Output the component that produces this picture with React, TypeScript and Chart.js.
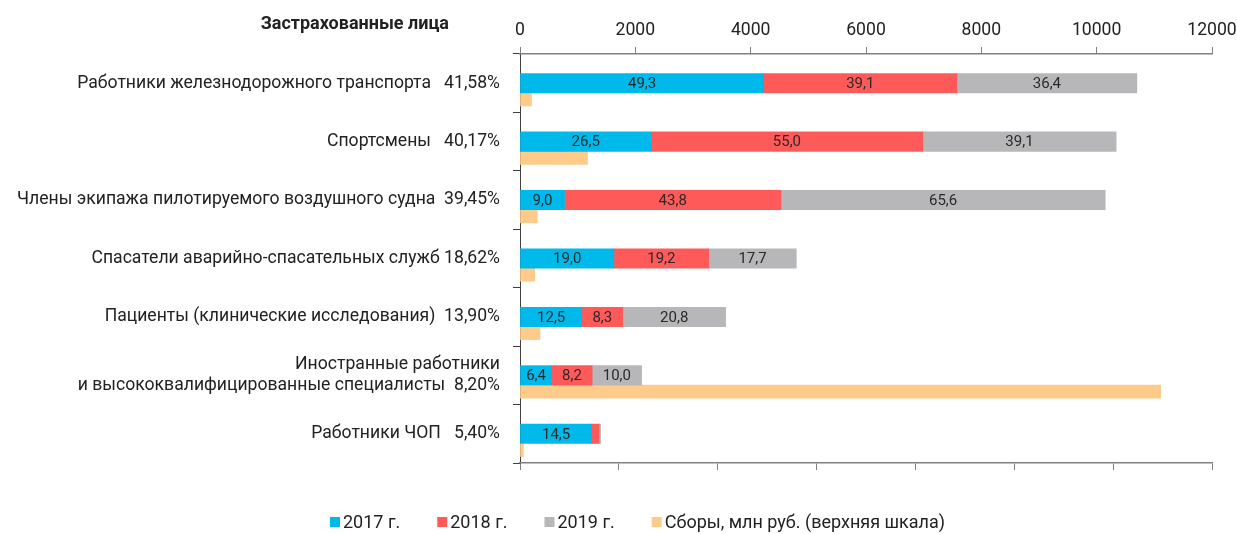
import React, { useEffect, useRef } from "react";
import { Chart, registerables } from "chart.js";

Chart.register(...registerables);

const FONT = "Roboto, 'Noto Sans', sans-serif";

const categories: (string | string[])[] = [
  "Работники железнодорожного транспорта",
  "Спортсмены",
  "Члены экипажа пилотируемого воздушного судна",
  "Спасатели аварийно-спасательных служб",
  "Пациенты (клинические исследования)",
  ["Иностранные работники", "и высококвалифицированные специалисты"],
  "Работники ЧОП",
];
const shares = ["41,58%", "40,17%", "39,45%", "18,62%", "13,90%", "8,20%", "5,40%"];
const shareGaps = ["   ", "   ", "  ", " ", "  ", "  ", "   "];

const values2017 = [49.3, 26.5, 9.0, 19.0, 12.5, 6.4, 14.5];
const values2018 = [39.1, 55.0, 43.8, 19.2, 8.3, 8.2, 1.5];
const values2019 = [36.4, 39.1, 65.6, 17.7, 20.8, 10.0, 0.3];
const fees = [200, 1170, 300, 255, 347, 11110, 60];

const seriesNames = ["2017 г.", "2018 г.", "2019 г.", "Сборы, млн руб. (верхняя шкала)"];
const seriesColors = ["#00B9EB", "#FF5A5A", "#B7B7B9", "#FFCB8A"];
const titleText = "Застрахованные лица";

const bottomMax = 140;
const bottomStep = 20;
const topMax = 12000;
const topStep = 2000;

function buildLabels(): string[][] {
  return categories.map((c, i) => {
    const lines = Array.isArray(c) ? [...c] : [c];
    lines[lines.length - 1] = lines[lines.length - 1] + shareGaps[i] + shares[i];
    return lines;
  });
}

const valueLabels = {
  id: "valueLabels",
  afterDatasetsDraw(chart: any) {
    const ctx = chart.ctx;
    ctx.save();
    ctx.font = `15px ${FONT}`;
    ctx.fillStyle = "#2a2a2a";
    ctx.textAlign = "center";
    ctx.textBaseline = "middle";
    chart.data.datasets.forEach((ds: any, di: number) => {
      if (ds.stack !== "main") return;
      const meta = chart.getDatasetMeta(di);
      meta.data.forEach((bar: any, i: number) => {
        const v = ds.data[i] as number;
        const p = bar.getProps(["x", "y", "base"], true);
        const w = Math.abs(p.x - p.base);
        const text = v.toFixed(1).replace(".", ",");
        if (w < ctx.measureText(text).width + 4) return;
        ctx.fillText(text, (p.x + p.base) / 2, p.y + 1);
      });
    });
    ctx.restore();
  },
};

const decorations = {
  id: "decorations",
  afterDraw(chart: any) {
    const ctx = chart.ctx;
    const area = chart.chartArea;
    ctx.save();
    // title
    ctx.font = `bold 18px ${FONT}`;
    ctx.fillStyle = "#222";
    ctx.textAlign = "right";
    ctx.textBaseline = "middle";
    ctx.fillText(titleText, area.left - 71, 24);
    // legend
    ctx.font = `18px ${FONT}`;
    ctx.textAlign = "left";
    let x = 330;
    const y = 522;
    chart.data.datasets.forEach((ds: any) => {
      if (!ds.label) return;
      ctx.fillStyle = ds.backgroundColor;
      ctx.fillRect(x, y - 5, 10, 10);
      x += 13;
      ctx.fillStyle = "#222";
      ctx.fillText(ds.label, x, y + 1);
      x += ctx.measureText(ds.label).width + 37;
    });
    ctx.restore();
  },
};

export default function App() {
  const ref = useRef<HTMLCanvasElement>(null);
  useEffect(() => {
    document.body.style.margin = "0";
    Chart.defaults.font.family = FONT;
    const chart = new Chart(ref.current!, {
      type: "bar",
      data: {
        labels: buildLabels(),
        datasets: [
          // empty spacer group: shifts the two bar groups so the main bar sits on the category centre
          { label: "", data: [], backgroundColor: "rgba(0,0,0,0)", stack: "spacer", xAxisID: "x", barThickness: 19.4 } as any,
          { label: seriesNames[0], data: values2017, backgroundColor: seriesColors[0], stack: "main", xAxisID: "x", barThickness: 19.4 } as any,
          { label: seriesNames[1], data: values2018, backgroundColor: seriesColors[1], stack: "main", xAxisID: "x", barThickness: 19.4 } as any,
          { label: seriesNames[2], data: values2019, backgroundColor: seriesColors[2], stack: "main", xAxisID: "x", barThickness: 19.4 } as any,
          { label: seriesNames[3], data: fees, backgroundColor: seriesColors[3], stack: "fees", xAxisID: "x2", barThickness: 16.2, maxBarThickness: 13 } as any,
        ],
      },
      options: {
        indexAxis: "y",
        animation: false,
        responsive: false,
        layout: { padding: { left: 0, right: 25, top: 0, bottom: 0 } },
        plugins: { legend: { display: false }, tooltip: { enabled: false } },
        scales: {
          y: {
            type: "category",
            offset: true,
            stacked: true,
            grid: { display: true, drawOnChartArea: false, drawTicks: true, tickLength: 7, color: "#404040", offset: true },
            border: { display: true, color: "#404040", width: 1 },
            ticks: { font: { size: 17.6, family: FONT }, color: "#222", padding: 13 },
            afterFit: (s: any) => { s.width = 520; },
          },
          x: {
            type: "linear",
            position: "bottom",
            min: 0,
            max: bottomMax,
            stacked: true,
            ticks: { display: false, stepSize: bottomStep },
            grid: { display: true, drawOnChartArea: false, drawTicks: true, tickLength: 7, color: "#808080" },
            border: { display: true, color: "#808080", width: 1.5 },
            afterFit: (s: any) => { s.height = 71; s.paddingRight = 0; s.paddingLeft = 0; },
          },
          x2: {
            type: "linear",
            position: "top",
            min: 0,
            max: topMax,
            ticks: { stepSize: topStep, font: { size: 17.6, family: FONT }, color: "#222", padding: 6, callback: (v: any) => String(v) },
            grid: { display: true, drawOnChartArea: false, drawTicks: true, tickLength: 7, color: "#808080" },
            border: { display: true, color: "#808080", width: 1.5 },
            afterFit: (s: any) => { s.height = 54; s.paddingRight = 0; s.paddingLeft = 0; },
          },
        },
      } as any,
      plugins: [valueLabels, decorations],
    });
    return () => chart.destroy();
  }, []);
  return <canvas ref={ref} width={1237} height={534} style={{ display: "block" }} />;
}
